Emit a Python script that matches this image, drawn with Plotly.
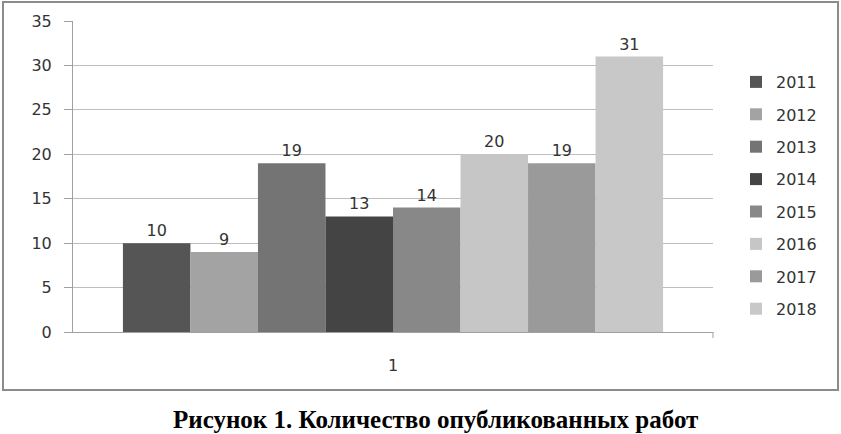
import plotly.graph_objects as go

# ── Data ──────────────────────────────────────────────────────────────────────
CATEGORY = ["1"]
YEARS = ["2011", "2012", "2013", "2014", "2015", "2016", "2017", "2018"]
COUNTS = [10, 9, 19, 13, 14, 20, 19, 31]
Y_TICKS = [0, 5, 10, 15, 20, 25, 30, 35]

BAR_COLORS = ["#555555", "#a3a3a3", "#747474", "#444444",
              "#888888", "#c6c6c6", "#9a9a9a", "#c8c8c8"]

TICK_FONT = dict(family="DejaVu Sans, Verdana, sans-serif", size=16, color="#333333")

# plot area in pixels (from the reference)
PX_L, PX_R, PX_T, PX_B = 73, 713, 21, 332
PW, PH = PX_R - PX_L, PX_B - PX_T

# ── Figure ────────────────────────────────────────────────────────────────────
fig = go.Figure()
for i, (year, val) in enumerate(zip(YEARS, COUNTS)):
    fig.add_trace(go.Bar(
        x=CATEGORY,
        y=[val],
        name=year,
        marker=dict(color=BAR_COLORS[i], line=dict(width=0)),
        text=[str(val)],
        textposition="outside",
        textfont=TICK_FONT,
        cliponaxis=False,
        legendgroup=year,
    ))

fig.update_layout(
    template="none",
    width=841,
    height=434,
    barmode="group",
    bargap=0.156,
    bargroupgap=0,
    paper_bgcolor="white",
    plot_bgcolor="white",
    margin=dict(l=PX_L, r=841 - PX_R, t=PX_T, b=434 - PX_B, pad=0),
    font=TICK_FONT,
    showlegend=True,
    legend=dict(
        x=(736 - PX_L) / PW, y=(PX_B - 65) / PH, xanchor="left", yanchor="top",
        font=TICK_FONT,
        traceorder="grouped",
        tracegroupgap=8.6,
        itemwidth=30,
        bgcolor="rgba(0,0,0,0)",
    ),
    xaxis=dict(
        type="category",
        automargin=False,
        showgrid=False,
        showline=True,
        linecolor="#a0a0a0",
        linewidth=1,
        ticks="",
        tickfont=TICK_FONT,
        ticklabelstandoff=19,
    ),
    yaxis=dict(
        range=[0, 35],
        automargin=False,
        tickvals=Y_TICKS,
        showgrid=True,
        gridcolor="#bdbdbd",
        gridwidth=1,
        showline=True,
        linecolor="#a0a0a0",
        linewidth=1,
        ticks="outside",
        ticklen=8,
        tickcolor="#a0a0a0",
        tickfont=TICK_FONT,
        ticklabelstandoff=9,
        zeroline=False,
    ),
)

# outer chart border
fig.add_shape(type="rect", xref="paper", yref="paper",
              x0=(3 - PX_L) / PW, x1=(838 - PX_L) / PW,
              y0=(PX_B - 390) / PH, y1=(PX_B - 2) / PH,
              line=dict(color="#8c8c8c", width=2), layer="below")
# small tick at right end of x axis
fig.add_shape(type="line", xref="paper", yref="paper",
              x0=1, x1=1, y0=0, y1=-6 / PH,
              line=dict(color="#a0a0a0", width=1))

# caption
fig.add_annotation(
    text="<b>Рисунок 1. Количество опубликованных работ</b>",
    xref="paper", yref="paper",
    x=(435 - PX_L) / PW, y=(PX_B - 419) / PH,
    xanchor="center", yanchor="middle",
    showarrow=False,
    font=dict(family="Liberation Serif, Times New Roman, serif", size=25, color="#000000"),
)

# drop the browser's default page margin so the figure sits at the top-left corner
fig.write_html("out.html", config={"displayModeBar": False},
               post_script="document.body.style.margin='0';")
